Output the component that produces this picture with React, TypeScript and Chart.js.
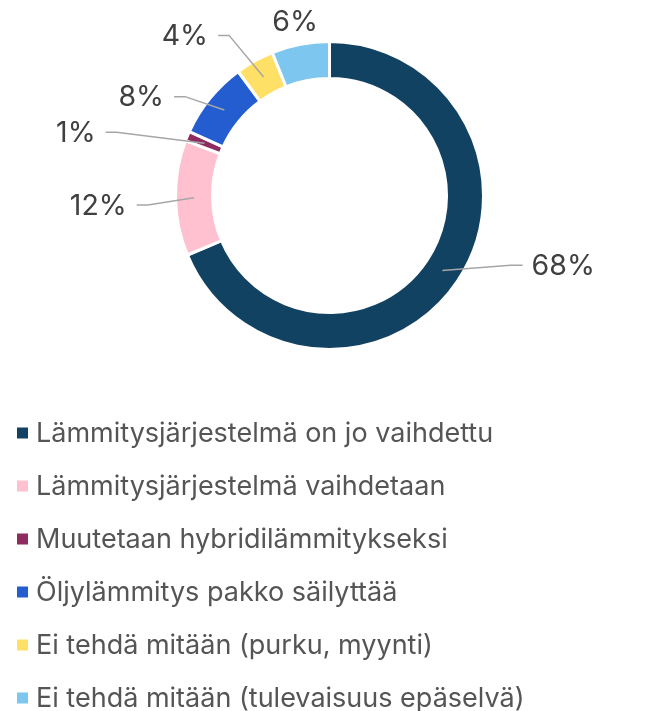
import React, { useEffect, useRef } from "react";
import { Chart, registerables } from "chart.js";

Chart.register(...registerables);

const categories = [
  "Lämmitysjärjestelmä on jo vaihdettu",
  "Lämmitysjärjestelmä vaihdetaan",
  "Muutetaan hybridilämmitykseksi",
  "Öljylämmitys pakko säilyttää",
  "Ei tehdä mitään (purku, myynti)",
  "Ei tehdä mitään (tulevaisuus epäselvä)",
];
const shares = [68, 12, 1, 8, 4, 6];
const valueLabels = ["68%", "12%", "1%", "8%", "4%", "6%"];
const sliceColors = ["#124262", "#FFC0CF", "#8E2C62", "#245DD0", "#FFE066", "#7DC6EF"];

// label layout (elbow polar offset relative to slice mid-angle)
const labelRadius = [194, 182, 222, 175, 189, 177];
const labelShiftDeg = [-12.6, -2.1, -6.2, -4.7, -3, -0.3];
const labelHasLine = [true, true, true, true, true, false];

const FONT = "Inter, 'Noto Sans', sans-serif";

const labelPlugin = {
  id: "outerLabels",
  afterDatasetsDraw(chart: any) {
    const ctx = chart.ctx;
    const meta = chart.getDatasetMeta(0);
    ctx.save();
    ctx.font = `28.5px ${FONT}`;
    ctx.textBaseline = "middle";
    meta.data.forEach((arc: any, i: number) => {
      const p = arc.getProps(["x", "y", "startAngle", "endAngle", "innerRadius", "outerRadius"], true);
      const mid = (p.startAngle + p.endAngle) / 2;
      const rm = (p.innerRadius + p.outerRadius) / 2;
      const ax = p.x + Math.cos(mid) * rm;
      const ay = p.y + Math.sin(mid) * rm;
      const a2 = mid + (labelShiftDeg[i] * Math.PI) / 180;
      const ex = p.x + Math.cos(a2) * labelRadius[i];
      const ey = p.y + Math.sin(a2) * labelRadius[i];
      const right = Math.cos(a2) > 0;
      ctx.fillStyle = "#404040";
      if (labelHasLine[i]) {
        const tx = ex + (right ? 12 : -11);
        ctx.strokeStyle = "#A6A6A6";
        ctx.lineWidth = 1.5;
        ctx.beginPath();
        ctx.moveTo(ax, ay);
        ctx.lineTo(ex, ey);
        ctx.lineTo(tx, ey);
        ctx.stroke();
        ctx.textAlign = right ? "left" : "right";
        ctx.fillText(valueLabels[i], tx + (right ? 9 : -10), ey + 1);
      } else {
        ctx.textAlign = "center";
        ctx.fillText(valueLabels[i], ex, ey + 1);
      }
    });
    ctx.restore();
  },
};

const legendPlugin = {
  id: "listLegend",
  afterDraw(chart: any) {
    const ctx = chart.ctx;
    const labels = chart.data.labels as string[];
    const colors = chart.data.datasets[0].backgroundColor as string[];
    ctx.save();
    ctx.font = `27px ${FONT}`;
    ctx.textBaseline = "middle";
    ctx.textAlign = "left";
    labels.forEach((lab, i) => {
      const cy = 433 + i * 53;
      ctx.fillStyle = colors[i];
      ctx.fillRect(17, cy - 5.5, 11, 11);
      ctx.fillStyle = "#555555";
      ctx.fillText(lab, 36, cy + 1);
    });
    ctx.restore();
  },
};

export default function App() {
  const ref = useRef<HTMLCanvasElement | null>(null);
  useEffect(() => {
    if (!ref.current) return;
    const chart = new Chart(ref.current, {
      type: "doughnut",
      data: {
        labels: categories,
        datasets: [
          {
            data: shares,
            backgroundColor: sliceColors,
            borderColor: "#FFFFFF",
            borderWidth: 3,
          },
        ],
      },
      options: {
        responsive: false,
        animation: false,
        radius: 154,
        cutout: "76%",
        layout: { padding: { top: 0, bottom: 349, left: 3, right: 0 } },
        plugins: {
          legend: { display: false },
          tooltip: { enabled: false },
        },
      } as any,
      plugins: [labelPlugin, legendPlugin],
    });
    return () => chart.destroy();
  }, []);
  return (
    <div style={{ position: "absolute", left: 0, top: 0, width: 656, height: 740 }}>
      <canvas ref={ref} width={656} height={740} />
    </div>
  );
}
